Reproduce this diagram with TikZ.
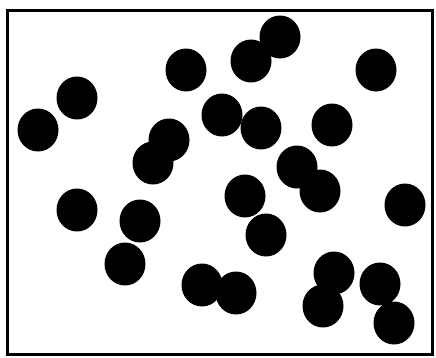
\documentclass[tikz,border=0pt]{standalone}
\begin{document}
\begin{tikzpicture}[x=1pt,y=-1pt,
  frame/.style={draw=black,line width=3pt},
  dot/.style={fill=black}]
\useasboundingbox (0,0) rectangle (436,357);
\draw[frame] (7,10) rectangle (432,354);
\foreach \p in {(38,130),(77,98),(186,70),(251,61),(280,37),(376,70),(222,115),(261,128),(332,125),(169,140),(153,163),(297,167),(320,191),(245,196),(77,210),(140,221),(405,205),(266,235),(125,264),(202,285),(236,293),(334,273),(323,306),(380,284),(394,323)}
  \fill[dot] \p ellipse [x radius=20.5, y radius=21.5];
\end{tikzpicture}
\end{document}
